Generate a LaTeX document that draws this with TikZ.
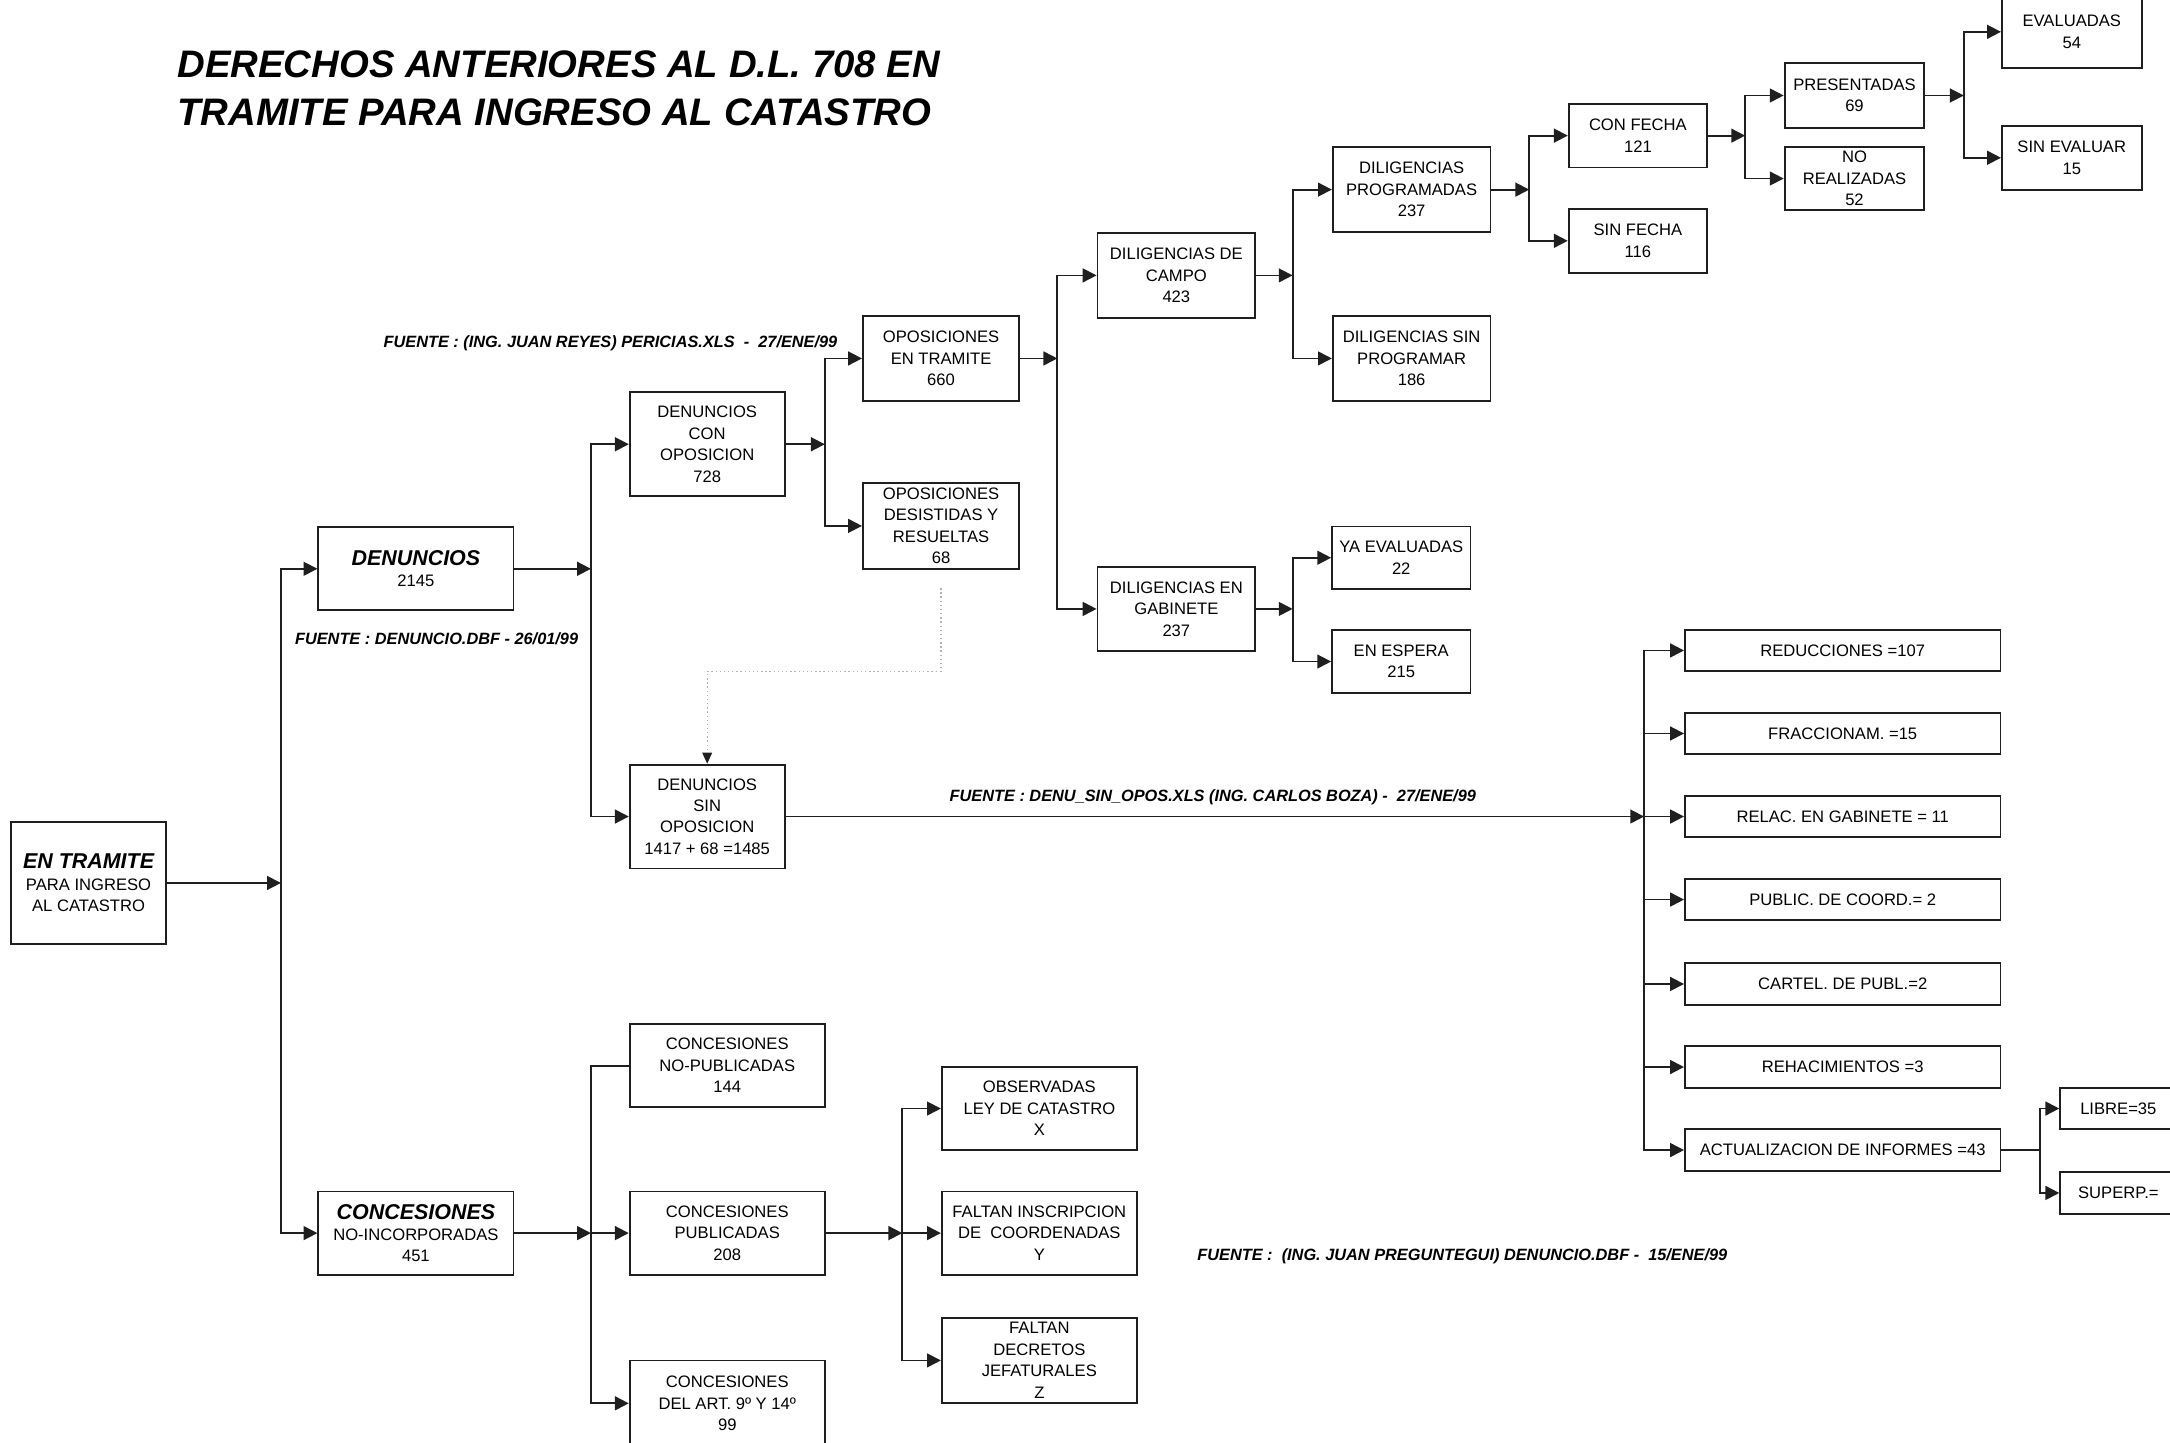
\documentclass[tikz,border=0pt]{standalone}
\usepackage{fontspec}
\setmainfont{Liberation Sans}
\usetikzlibrary{arrows.meta,positioning}

\tikzset{
  caja/.style={draw=black!88, line width=1.3pt, align=center, inner sep=1pt,
    font=\fontsize{12}{15.5}\selectfont},
  lista/.style={caja, minimum width=228pt, minimum height=30pt},
  flecha/.style={-{Triangle[length=10pt,width=10pt]}, line width=1.3pt, draw=black!88},
  linea/.style={line width=1.3pt, draw=black!88},
  fuente/.style={anchor=base west, inner sep=0pt, font=\fontsize{11.8}{14}\selectfont\bfseries\itshape},
  titulo/.style={anchor=base west, inner sep=0pt, font=\fontsize{27.7}{35}\selectfont\bfseries\itshape}
}
\newcommand{\tit}[1]{{\fontsize{15.5}{17}\selectfont\bfseries\itshape #1}}

\begin{document}
\begin{tikzpicture}[x=1pt,y=-1pt]
    \useasboundingbox (0,0) rectangle (1568,1042);
    % titulo
    \node[titulo] (tit1) at (128,56) {DERECHOS ANTERIORES AL D.L. 708 EN};
    \node[titulo] (tit2) at (128,91) {TRAMITE PARA INGRESO AL CATASTRO};

    % cajas
    \node[caja, minimum width=112pt, minimum height=88pt] (tram) at (64,638) {\tit{EN TRAMITE}\\PARA INGRESO\\AL CATASTRO};
    \node[caja, minimum width=141pt, minimum height=60pt] (den) at (300.5,411) {\tit{DENUNCIOS}\\2145};
    \node[caja, minimum width=141pt, minimum height=60pt] (con) at (300.5,891) {\tit{CONCESIONES}\\NO-INCORPORADAS\\451};
    \node[caja, minimum width=112pt, minimum height=75pt] (dco) at (511,321) {DENUNCIOS\\CON\\OPOSICION\\728};
    \node[caja, minimum width=112pt, minimum height=75pt] (dso) at (511,590) {DENUNCIOS\\SIN\\OPOSICION\\1417 + 68 =1485};
    \node[caja, minimum width=113pt, minimum height=61pt] (oet) at (680,259) {OPOSICIONES\\EN TRAMITE\\660};
    \node[caja, minimum width=113pt, minimum height=62pt, inner ysep=0pt] (ody) at (680,380) {OPOSICIONES\\DESISTIDAS Y\\RESUELTAS\\68};
    \node[caja, minimum width=114pt, minimum height=61pt] (dca) at (850,199) {DILIGENCIAS DE\\CAMPO\\423};
    \node[caja, minimum width=114pt, minimum height=61pt] (dga) at (850,440) {DILIGENCIAS EN\\GABINETE\\237};
    \node[caja, minimum width=114pt, minimum height=61pt] (dpr) at (1020,137) {DILIGENCIAS\\PROGRAMADAS\\237};
    \node[caja, minimum width=114pt, minimum height=61pt] (dsp) at (1020,259) {DILIGENCIAS SIN\\PROGRAMAR\\186};
    \node[caja, minimum width=100pt, minimum height=46pt] (cfe) at (1183.5,98) {CON FECHA\\121};
    \node[caja, minimum width=100pt, minimum height=46pt] (sfe) at (1183.5,174) {SIN FECHA\\116};
    \node[caja, minimum width=101pt, minimum height=47pt] (pre) at (1340,69) {PRESENTADAS\\69};
    \node[caja, minimum width=101pt, minimum height=46pt] (nre) at (1340,129) {NO\\REALIZADAS\\52};
    \node[caja, minimum width=101pt, minimum height=52pt] (eva) at (1497,23) {EVALUADAS\\54};
    \node[caja, minimum width=101pt, minimum height=46pt] (sev) at (1497,114) {SIN EVALUAR\\15};
    \node[caja, minimum width=100pt, minimum height=45pt] (yev) at (1012.5,403) {YA EVALUADAS\\22};
    \node[caja, minimum width=100pt, minimum height=45pt] (esp) at (1012.5,478) {EN ESPERA\\215};

    \node[lista] (red) at (1331.5,470) {REDUCCIONES =107};
    \node[lista] (fra) at (1331.5,530) {FRACCIONAM. =15};
    \node[lista] (rel) at (1331.5,590) {RELAC. EN GABINETE = 11};
    \node[lista] (pub) at (1331.5,650) {PUBLIC. DE COORD.= 2};
    \node[lista] (car) at (1331.5,711) {CARTEL. DE PUBL.=2};
    \node[lista] (reh) at (1331.5,771) {REHACIMIENTOS =3};
    \node[lista] (act) at (1331.5,831) {ACTUALIZACION DE INFORMES =43};
    \node[caja, anchor=west, minimum width=84pt, minimum height=30pt] (lib) at (1488,801) {LIBRE=35};
    \node[caja, anchor=west, minimum width=84pt, minimum height=30pt] (sup) at (1488,862) {SUPERP.=};

    \node[caja, minimum width=141pt, minimum height=60pt] (cnp) at (525.5,770) {CONCESIONES\\NO-PUBLICADAS\\144};
    \node[caja, minimum width=141pt, minimum height=60pt] (cpu) at (525.5,891) {CONCESIONES\\PUBLICADAS\\208};
    \node[caja, minimum width=141pt, minimum height=62pt] (cda) at (525.5,1014) {CONCESIONES\\DEL ART. 9º Y 14º\\99};
    \node[caja, minimum width=141pt, minimum height=60pt] (obs) at (751,801) {OBSERVADAS\\LEY DE CATASTRO\\X};
    \node[caja, minimum width=141pt, minimum height=60pt] (fin) at (751,891) {FALTAN INSCRIPCION\\DE~~COORDENADAS\\Y};
    \node[caja, minimum width=141pt, minimum height=61pt, inner ysep=0pt] (fde) at (751,983) {FALTAN\\DECRETOS\\JEFATURALES\\Z};

    % fuentes
    \node[fuente] (f1) at (277,251) {FUENTE : (ING. JUAN REYES) PERICIAS.XLS~~-~~27/ENE/99};
    \node[fuente] (f2) at (213,466) {FUENTE : DENUNCIO.DBF - 26/01/99};
    \node[fuente] (f3) at (686,579) {FUENTE : DENU\_SIN\_OPOS.XLS (ING. CARLOS BOZA) -~~27/ENE/99};
    \node[fuente] (f4) at (865,911) {FUENTE :~~(ING. JUAN PREGUNTEGUI) DENUNCIO.DBF -~~15/ENE/99};

    % uniones
    \coordinate (j1) at (203,638);
    \coordinate (j2) at (427,411);
    \coordinate (j3) at (596,321);
    \coordinate (j4) at (764,259);
    \coordinate (j5) at (934,199);
    \coordinate (j6) at (1105,137);
    \coordinate (j7) at (1261,98);
    \coordinate (j8) at (1419,69);
    \coordinate (j9) at (934,440);
    \coordinate (j10) at (1188,590);
    \coordinate (j11) at (1474,831);
    \coordinate (j12) at (427,891);
    \coordinate (j13) at (652,891);

    \draw[flecha] (tram.east) -- (j1);
    \draw[flecha] (j1) |- (den.west);
    \draw[flecha] (j1) |- (con.west);

    \draw[flecha] (den.east) -- (j2);
    \draw[flecha] (j2) |- (dco.west);
    \draw[flecha] (j2) |- (dso.west);

    \draw[flecha] (dco.east) -- (j3);
    \draw[flecha] (j3) |- (oet.west);
    \draw[flecha] (j3) |- (ody.west);

    \draw[flecha] (oet.east) -- (j4);
    \draw[flecha] (j4) |- (dca.west);
    \draw[flecha] (j4) |- (dga.west);

    \draw[flecha] (dca.east) -- (j5);
    \draw[flecha] (j5) |- (dpr.west);
    \draw[flecha] (j5) |- (dsp.west);

    \draw[flecha] (dpr.east) -- (j6);
    \draw[flecha] (j6) |- (cfe.west);
    \draw[flecha] (j6) |- (sfe.west);

    \draw[flecha] (cfe.east) -- (j7);
    \draw[flecha] (j7) |- (pre.west);
    \draw[flecha] (j7) |- (nre.west);

    \draw[flecha] (pre.east) -- (j8);
    \draw[flecha] (j8) |- (eva.west);
    \draw[flecha] (j8) |- (sev.west);

    \draw[flecha] (dga.east) -- (j9);
    \draw[flecha] (j9) |- (yev.west);
    \draw[flecha] (j9) |- (esp.west);

    \draw[flecha] (dso.east) -- (j10);
    \draw[flecha] (j10) |- (red.west);
    \draw[flecha] (j10) |- (fra.west);
    \draw[flecha] (j10) |- (rel.west);
    \draw[flecha] (j10) |- (pub.west);
    \draw[flecha] (j10) |- (car.west);
    \draw[flecha] (j10) |- (reh.west);
    \draw[flecha] (j10) |- (act.west);

    \draw[linea] (act.east) -- (j11);
    \draw[flecha] (j11) |- (lib.west);
    \draw[flecha] (j11) |- (sup.west);

    \draw[flecha] (con.east) -- (j12);
    \draw[linea] (j12) |- (cnp.west);
    \draw[flecha] (j12) |- (cpu.west);
    \draw[flecha] (j12) |- (cda.west);

    \draw[flecha] (cpu.east) -- (j13);
    \draw[flecha] (j13) |- (obs.west);
    \draw[flecha] (j13) |- (fin.west);
    \draw[flecha] (j13) |- (fde.west);

    % punteada
    \coordinate (p0) at (680,425);
    \coordinate (p1) at (680,485);
    \draw[dotted, line width=1pt, gray!60, -{Triangle[length=8pt,width=7pt,color=black!88]}] (p0) -- (p1) -| (dso.north);
\end{tikzpicture}
\end{document}
